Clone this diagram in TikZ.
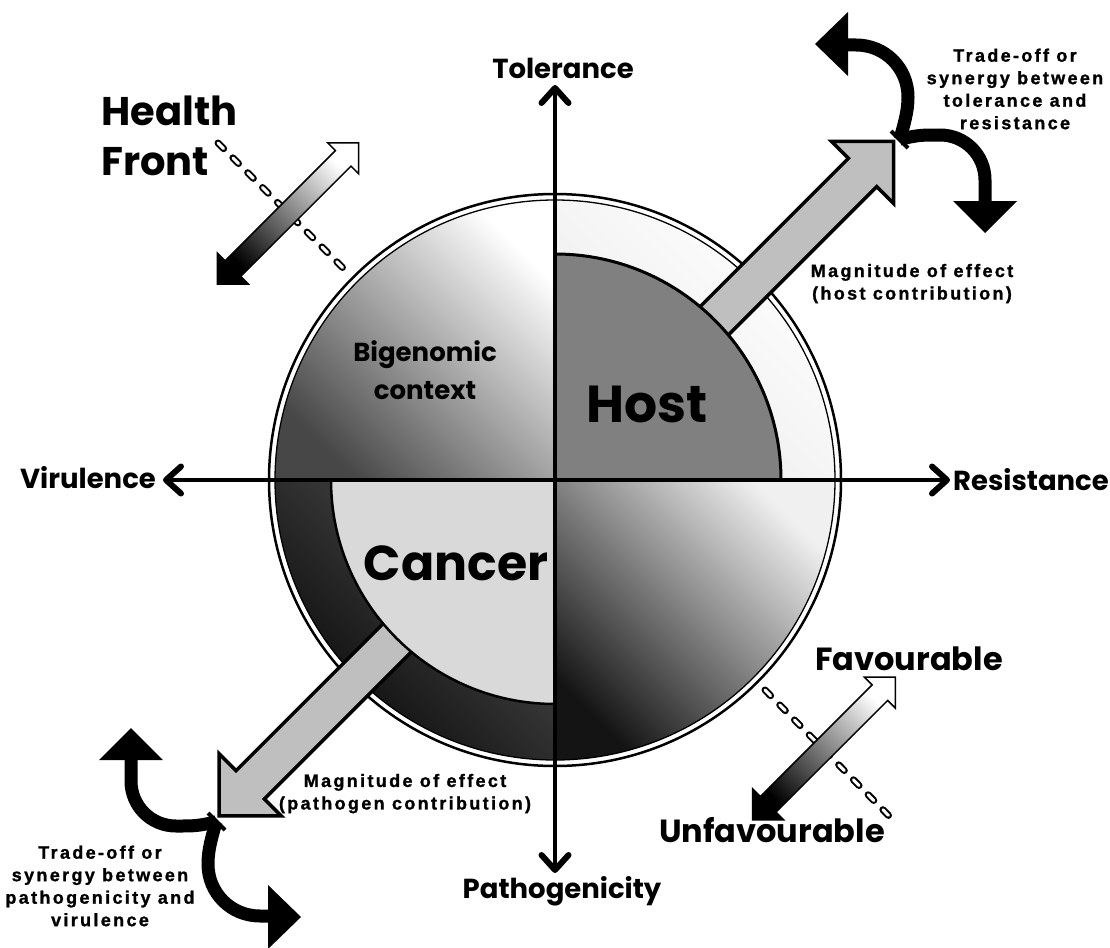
\documentclass[tikz,border=0pt]{standalone}
\usepackage{fontspec}
\setmainfont{Poppins}
\newfontfamily\notefont[LetterSpace=13,FakeBold=1.2]{Liberation Sans Bold}
\usetikzlibrary{arrows.meta,positioning}
\begin{document}
\begin{tikzpicture}[x=1pt,y=-1pt,
  axis/.style={line width=4.5pt,{Straight Barb[length=15pt,width=27pt,line width=6pt,round]}-{Straight Barb[length=15pt,width=27pt,line width=6pt,round]}},
  axislbl/.style={font=\bfseries\fontsize{27.5}{30}\selectfont,inner sep=0pt,anchor=base},
  bigword/.style={font=\bfseries\fontsize{52}{60}\selectfont,inner sep=0pt,anchor=base},
  midword/.style={font=\bfseries\fontsize{32}{36}\selectfont,inner sep=0pt,anchor=base},
  noteword/.style={font=\notefont\fontsize{18}{22.5}\selectfont,inner sep=0pt,align=center},
  effect/.style={fill=black!25,draw=black,line width=3.5pt,line join=miter},
  frontarrow/.style={draw=black,line width=1.5pt,top color=white,bottom color=black,shading angle=-45},
  dashback/.style={line width=7pt,line cap=round,dash pattern=on 8pt off 13pt},
  dashfront/.style={white,line width=3pt,line cap=round,dash pattern=on 8pt off 13pt},
  curl/.style={line width=13pt},
  tradeoff/.pic={
    \draw[curl] (0,0) .. controls (4,-15) and (8,-27) .. (8,-42) .. controls (8,-71) and (-15,-94) .. (-44,-94) -- (-52,-94);
    \fill (-52,-127) -- (-85,-95) -- (-52,-63) -- cycle;
    \draw[curl] (0,0) .. controls (20,-4) .. (40,-4) .. controls (65,-4) and (85,16) .. (85,41) -- (85,64);
    \fill (53,62) -- (117,62) -- (85,94) -- cycle;
    \draw[line width=4pt] (-9,-8) -- (8,9);
  }]
\path[fill=white,use as bounding box] (0,0) rectangle (1110,947);
\coordinate (c) at (555,480);
\filldraw[fill=white,line width=2.5pt] (c) circle[radius=286];
\shade[top color=white,bottom color=black!8,shading angle=-45] (c) -- ++(280,0) arc[start angle=0,end angle=-90,radius=280] -- cycle;
\shade[top color=white,middle color=black!22,bottom color=black!72,shading angle=-45] (c) -- ++(0,-280) arc[start angle=-90,end angle=-180,radius=280] -- cycle;
\shade[top color=black!68,bottom color=black!97,shading angle=-45] (c) -- ++(-280,0) arc[start angle=180,end angle=90,radius=280] -- cycle;
\shade[top color=black!6,middle color=black!40,bottom color=black!92,shading angle=-45] (c) -- ++(0,280) arc[start angle=90,end angle=0,radius=280] -- cycle;
\draw[line width=1.3pt] (c) circle[radius=280];
\draw[effect,shift={(c)},rotate=45] (200,-20) -- (435,-20) -- (435,-44) -- (479,0) -- (435,44) -- (435,20) -- (200,20) -- cycle;
\draw[effect,shift={(c)},rotate=225] (200,-20) -- (431,-20) -- (431,-44) -- (475,0) -- (431,44) -- (431,20) -- (200,20) -- cycle;
\filldraw[fill=black!50,line width=3pt] (c) -- ++(226,0) arc[start angle=0,end angle=-90,radius=226] -- cycle;
\filldraw[fill=black!15,line width=2.5pt] (c) -- ++(-224,0) arc[start angle=180,end angle=90,radius=224] -- cycle;
\coordinate (tolTip) at (555,85);
\coordinate (pathTip) at (555,873);
\coordinate (virTip) at (163,480);
\coordinate (resTip) at (950,480);
\draw[axis] (virTip) -- (resTip);
\draw[axis] (pathTip) -- (tolTip);
\node[axislbl] (tolerance) at (563,79) {Tolerance};
\node[axislbl] (pathogenicity) at (562,898) {Pathogenicity};
\node[axislbl] (virulence) at (88,488) {Virulence};
\node[axislbl] (resistance) at (1031,490) {Resistance};
\node[bigword] (host) at (647,422) {Host};
\node[bigword,font=\bfseries\fontsize{49}{60}\selectfont] (cancer) at (456,580) {Cancer};
\node[font=\bfseries\fontsize{26}{38}\selectfont,inner sep=0pt,align=center] (context) at (425,370.5) {Bigenomic\\context};
\node[font=\bfseries\fontsize{40}{50}\selectfont,inner sep=0pt,anchor=base west] (health) at (101,125) {Health};
\node[font=\bfseries\fontsize{40}{50}\selectfont,inner sep=0pt,anchor=base west] (front) at (101,175) {Front};
\node[midword] (favourable) at (909,670) {Favourable};
\node[midword] (unfavourable) at (772,842) {Unfavourable};
\node[noteword] (hostnote) at (912,283.6) {Magnitude of effect\\(host contribution)};
\node[noteword] (cancernote) at (405,793.6) {Magnitude of effect\\(pathogen contribution)};
\node[noteword] (tradeurnote) at (1015,89) {Trade-off or\\synergy between\\tolerance and\\resistance};
\node[noteword] (tradeblnote) at (100,886) {Trade-off or\\synergy between\\pathogenicity and\\virulence};
\coordinate (hfA) at (218,143);
\coordinate (hfB) at (347,272);
\coordinate (fvA) at (765,690);
\coordinate (fvB) at (893,820);
\draw[dashback] (hfA) -- (hfB);
\draw[dashfront] (hfA) -- (hfB);
\draw[dashback] (fvA) -- (fvB);
\draw[dashfront] (fvA) -- (fvB);
\draw[frontarrow,shift={(288,213.5)},rotate=45] (-100,0) -- (-78,-22) -- (-78,-11) -- (78,-11) -- (78,-22) -- (100,0) -- (78,22) -- (78,11) -- (-78,11) -- (-78,22) -- cycle;
\draw[frontarrow,shift={(824,748.5)},rotate=45] (-101,0) -- (-79,-22) -- (-79,-11) -- (79,-11) -- (79,-22) -- (101,0) -- (79,22) -- (79,11) -- (-79,11) -- (-79,22) -- cycle;
\pic (tradeur) at (900,139) {tradeoff};
\pic[rotate=180] (tradebl) at (216,822) {tradeoff};
\end{tikzpicture}
\end{document}
